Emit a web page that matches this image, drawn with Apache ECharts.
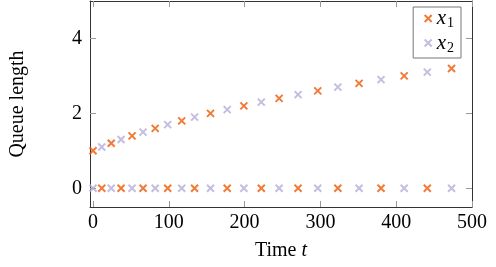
<!DOCTYPE html>
<html style="height: 100%">

<head>
    <meta charset="utf-8">
</head>

<body style="height: 100%; margin: 0; background: #fff">
    <div id="main" style="width: 496px; height: 267px"></div>

    <script type="text/javascript" src="https://cdn.jsdelivr.net/npm/echarts@6/dist/echarts.min.js"></script>

    <script type="text/javascript">
        // sample times and queue lengths
        var times = [0, 11.5, 24, 37, 51.5, 66, 82, 98.5, 117, 134, 155, 177, 199, 222, 245.5, 270.5, 296.5, 323, 351, 380, 410.5, 441, 473];
        var x1 = [1.0, 0, 1.2, 0, 1.4, 0, 1.6, 0, 1.8, 0, 2.0, 0, 2.2, 0, 2.4, 0, 2.6, 0, 2.8, 0, 3.0, 0, 3.2];
        var x2 = [0, 1.1, 0, 1.3, 0, 1.5, 0, 1.7, 0, 1.9, 0, 2.1, 0, 2.3, 0, 2.5, 0, 2.7, 0, 2.9, 0, 3.1, 0];
        var xTicks = [0, 100, 200, 300, 400, 500];
        var yTicks = [0, 2, 4];

        var font = 'Liberation Serif';
        var cross = 'path://M0,0L10,10M10,0L0,10';

        function pairs(ys) {
            return times.map(function (t, i) { return [t, ys[i]]; });
        }

        var myChart = echarts.init(document.getElementById('main'));

        function axisX(pos, show) {
            return {
                type: 'value', position: pos, min: -4, max: 500,
                axisLine: { show: true, onZero: false, lineStyle: { color: '#333', width: 1 } },
                axisTick: { show: true, inside: true, length: 6, customValues: xTicks, lineStyle: { color: '#999' } },
                axisLabel: { show: show, customValues: xTicks, margin: 6, color: '#000', fontFamily: font, fontSize: 20 },
                splitLine: { show: false }
            };
        }
        function axisY(pos, show) {
            return {
                type: 'value', position: pos, min: -0.5, max: 5,
                axisLine: { show: true, onZero: false, lineStyle: { color: '#333', width: 1 } },
                axisTick: { show: true, inside: true, length: 6, customValues: yTicks, lineStyle: { color: '#999' } },
                axisLabel: { show: show, customValues: yTicks, margin: 8, color: '#000', fontFamily: font, fontSize: 20 },
                splitLine: { show: false }
            };
        }

        var xb = axisX('bottom', true);
        xb.name = '{n|Time }{i|t}';
        xb.nameLocation = 'middle';
        xb.nameGap = 34;
        xb.nameTextStyle = {
            rich: {
                n: { fontFamily: font, fontSize: 20, color: '#000' },
                i: { fontFamily: font, fontSize: 20, fontStyle: 'italic', color: '#000' }
            }
        };
        var yl = axisY('left', true);
        yl.name = 'Queue length';
        yl.nameLocation = 'middle';
        yl.nameGap = 62;
        yl.nameTextStyle = { fontFamily: font, fontSize: 20, color: '#000' };

        var option = {
            animation: false,
            grid: { left: 89, right: 24, top: 1, bottom: 60 },
            legend: {
                orient: 'vertical',
                right: 35,
                top: 7,
                itemWidth: 7,
                itemHeight: 7,
                itemGap: 2,
                padding: [1, 7, 3, 9],
                borderColor: '#777',
                borderWidth: 1,
                backgroundColor: '#fff',
                data: [
                    { name: 'x1', icon: cross },
                    { name: 'x2', icon: cross }
                ],
                formatter: function (name) {
                    return '{i|x}{s|' + name.slice(1) + '}';
                },
                textStyle: {
                    rich: {
                        i: { fontFamily: font, fontSize: 21, fontStyle: 'italic', color: '#000' },
                        s: { fontFamily: font, fontSize: 14, color: '#000', padding: [10, 0, 0, 1] }
                    }
                }
            },
            xAxis: [xb, axisX('top', false)],
            yAxis: [yl, axisY('right', false)],
            series: [
                {
                    name: 'x1', type: 'scatter', symbol: cross, symbolSize: 7,
                    itemStyle: { color: 'none', borderColor: '#ec5a06', borderWidth: 2 },
                    data: pairs(x1)
                },
                {
                    name: 'x2', type: 'scatter', symbol: cross, symbolSize: 7,
                    itemStyle: { color: 'none', borderColor: '#b4aed8', borderWidth: 2 },
                    data: pairs(x2)
                }
            ]
        };

        myChart.setOption(option);
    </script>
</body>

</html>
